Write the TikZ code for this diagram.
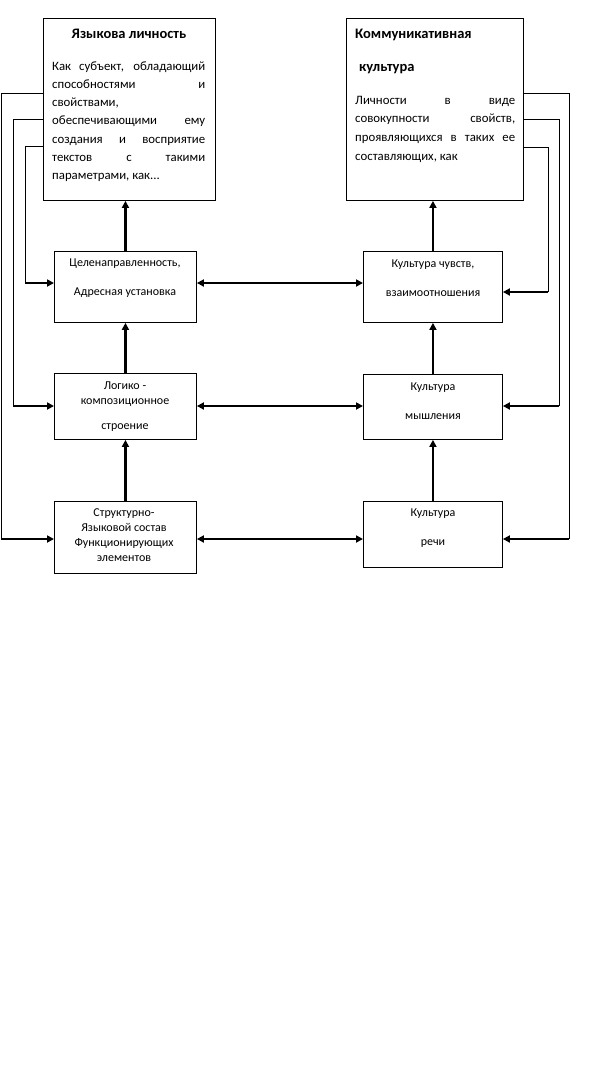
\documentclass[tikz,border=0pt]{standalone}
\usepackage{fontspec}
\setmainfont{Carlito}
\usetikzlibrary{positioning,arrows.meta}
\tolerance=10000
\hbadness=10000

\begin{document}
\begin{tikzpicture}[
    x=1pt, y=-1pt,
    every node/.style={inner sep=0pt, font=\fontsize{12}{15}\selectfont},
    box/.style={draw, line width=0.9pt, anchor=north west, minimum width=142pt},
    head/.style={font=\fontsize{14.5}{17}\selectfont\bfseries},
    body/.style={font=\fontsize{12.8}{18.3}\selectfont, align=justify},
    txt/.style={align=center, anchor=base},
    arr/.style={line width=2.2pt, -{Triangle[length=7pt,width=7pt]}},
    twoway/.style={line width=2.2pt, {Triangle[length=7pt,width=7pt]}-{Triangle[length=7pt,width=7pt]}},
    fb/.style={line width=1pt}
]
\path[use as bounding box, fill=white] (0,0) rectangle (594,1087);

% upper boxes
\node[box, minimum width=172pt, minimum height=182pt] (lk) at (43,18) {};
\node[box, minimum width=177pt, minimum height=182pt] (kk) at (346,18) {};
\node[head, anchor=base] (lk-t) at (129,38) {Языкова личность};
\node[body, anchor=base west, text width=153pt] (lk-b) at (52,70)
  {Как субъект, обладающий\linebreak способностями и\linebreak свойствами,\linebreak
   обеспечивающими ему\linebreak создания и восприятие\linebreak текстов с такими\linebreak
   параметрами, как...};
\node[head, anchor=base west] (kk-t) at (355,38) {Коммуникативная};
\node[head, anchor=base west] (kk-t2) at (359,71) {культура};
\node[body, anchor=base west, text width=160pt, font=\fontsize{12.8}{18.8}\selectfont] (kk-b) at (355,104)
  {Личности в виде\linebreak совокупности свойств,\linebreak проявляющихся в таких ее\linebreak
   составляющих, как};

% left column
\node[box, minimum height=71pt] (a1) at (54,251) {};
\node[box, minimum height=66pt] (a2) at (54,373) {};
\node[box, minimum height=72pt] (a3) at (54,501) {};
\node[txt] (a1-t) at (125,295) {Целенаправленность,\\[14pt]Адресная установка};
\node[txt] (a2-t) at (125,429) {Логико -\\композиционное\\[10pt]строение};
\node[txt] (a3-t) at (124,561) {Структурно-\\Языковой состав\\Функционирующих\\элементов};

% right column
\node[box, minimum width=139pt, minimum height=71pt] (b1) at (363,251) {};
\node[box, minimum width=139pt, minimum height=65pt] (b2) at (363,374) {};
\node[box, minimum width=139pt, minimum height=66pt] (b3) at (363,501) {};
\node[txt] (b1-t) at (433,296) {Культура чувств,\\[14pt]взаимоотношения};
\node[txt] (b2-t) at (433,419) {Культура\\[14pt]мышления};
\node[txt] (b3-t) at (433,545) {Культура\\[14pt]речи};

% rows
\coordinate (r1) at (0,283);
\coordinate (r2) at (0,406);
\coordinate (r3) at (0,539);
\coordinate (s1) at (0,292);
\draw[twoway] (a1.east |- r1) -- (b1.west |- r1);
\draw[twoway] (a2.east |- r2) -- (b2.west |- r2);
\draw[twoway] (a3.east |- r3) -- (b3.west |- r3);

% upward arrows
\draw[arr] (a3.north) -- (a2.south);
\draw[arr] (a2.north) -- (a1.south);
\draw[arr] (a1.north) -- (a1.north |- lk.south);
\draw[arr] (b3.north) -- (b2.south);
\draw[arr] (b2.north) -- (b1.south);
\draw[arr] (b1.north) -- (b1.north |- kk.south);

% feedback lines
\coordinate (l1) at (1,93);
\coordinate (l2) at (13,119);
\coordinate (l3) at (25,146);
\coordinate (q1) at (569,93);
\coordinate (q2) at (559,119);
\coordinate (q3) at (548,147);
\draw[fb] (lk.west |- l1) -| (l1 |- r3);
\draw[arr] (l1 |- r3) -- (a3.west |- r3);
\draw[fb] (lk.west |- l2) -| (l2 |- r2);
\draw[arr] (l2 |- r2) -- (a2.west |- r2);
\draw[fb] (lk.west |- l3) -| (l3 |- r1);
\draw[arr] (l3 |- r1) -- (a1.west |- r1);
\draw[fb] (kk.east |- q1) -| (q1 |- r3);
\draw[arr] (q1 |- r3) -- (b3.east |- r3);
\draw[fb] (kk.east |- q2) -| (q2 |- r2);
\draw[arr] (q2 |- r2) -- (b2.east |- r2);
\draw[fb] (kk.east |- q3) -| (q3 |- s1);
\draw[arr] (q3 |- s1) -- (b1.east |- s1);
\end{tikzpicture}
\end{document}
